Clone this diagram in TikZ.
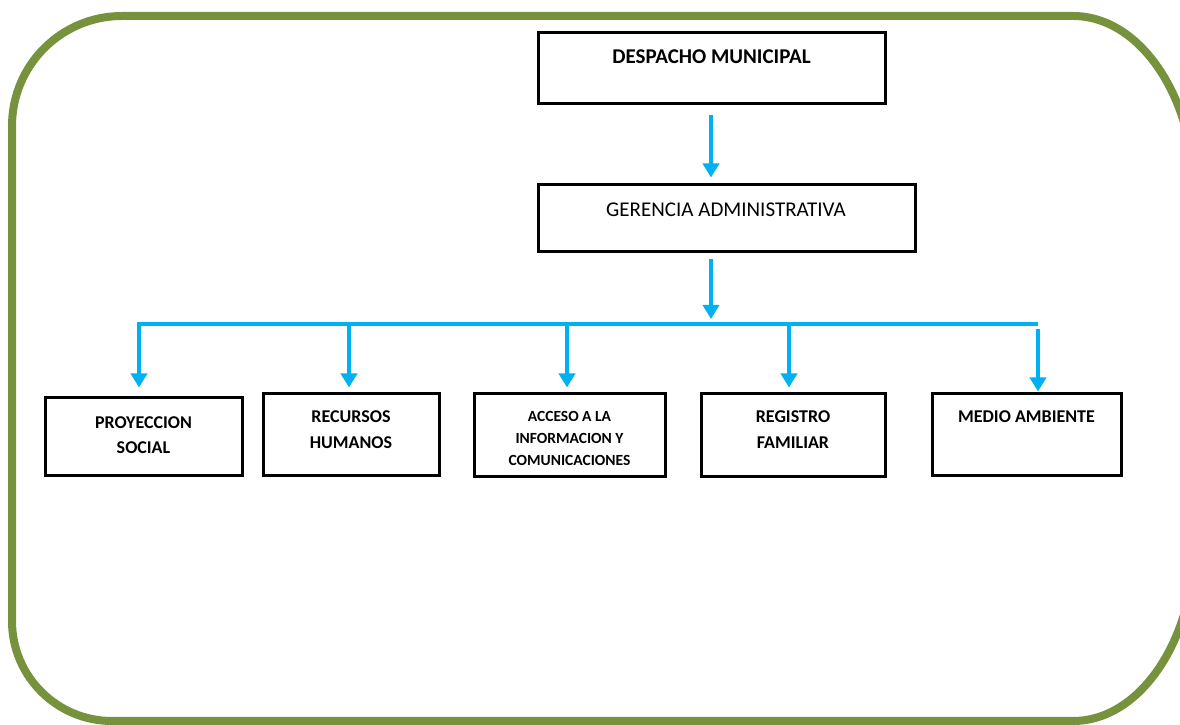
\documentclass[tikz,border=0pt]{standalone}
\usepackage{fontspec}
\setmainfont{Carlito}
\usetikzlibrary{arrows.meta}
\definecolor{frameolive}{HTML}{76923C}
\definecolor{linkblue}{HTML}{00B0F0}
\begin{document}
\begin{tikzpicture}[x=1pt,y=1pt,
  unitbox/.style={draw=black,line width=3pt,inner sep=0pt,rectangle},
  toptitle/.style={anchor=north,inner sep=0pt,align=center,font=\fontsize{21}{25}\selectfont},
  unitlabel/.style={anchor=north,inner sep=0pt,align=center,font=\bfseries\fontsize{18}{26}\selectfont},
  smalllabel/.style={anchor=north,inner sep=0pt,align=center,font=\bfseries\fontsize{15.5}{22}\selectfont},
  link/.style={draw=linkblue,line width=3.5pt},
  linkarrow/.style={link,-{Triangle[width=16pt,length=14pt]}},
]
\useasboundingbox (0,0) rectangle (1180,725);
\clip (0,0) rectangle (1180,725);
\fill[white] (0,0) rectangle (1180,725);

% olive frame with rounded corners, running past the right edge
\draw[frameolive,line width=8pt]
  (122,709) -- (1073,709)
  arc[start angle=90,end angle=0,x radius=122,y radius=182] -- (1195,186)
  arc[start angle=0,end angle=-90,x radius=122,y radius=182] -- (112,4)
  arc[start angle=270,end angle=180,radius=100] -- (12,599)
  arc[start angle=180,end angle=90,radius=110] -- cycle;

% boxes
\node (dm) [unitbox,minimum width=347pt,minimum height=71pt] at (711.5,656.5) {};
\node (ga) [unitbox,minimum width=377pt,minimum height=67pt] at (726.5,506.5) {};
\node (ps) [unitbox,minimum width=197pt,minimum height=78pt] at (143.5,288) {};
\node (rh) [unitbox,minimum width=176pt,minimum height=82pt] at (351,290) {};
\node (ai) [unitbox,minimum width=191pt,minimum height=83pt] at (569.5,289.5) {};
\node (rf) [unitbox,minimum width=184pt,minimum height=83pt] at (793,289.5) {};
\node (ma) [unitbox,minimum width=189pt,minimum height=82pt] at (1026.5,290) {};

% box texts
\node (dmt) [toptitle,font=\bfseries\fontsize{21}{25}\selectfont] at (711.5,675) {DESPACHO MUNICIPAL};
\node (gat) [toptitle] at (726,522) {GERENCIA ADMINISTRATIVA};
\node (pst) [unitlabel] at (143.5,309) {PROYECCION\\SOCIAL};
\node (rht) [unitlabel] at (351,314) {RECURSOS\\HUMANOS};
\node (ait) [smalllabel] at (569.5,314) {ACCESO A LA\\INFORMACION Y\\COMUNICACIONES};
\node (rft) [unitlabel] at (793,314) {REGISTRO\\FAMILIAR};
\node (mat) [unitlabel] at (1026.5,314) {MEDIO AMBIENTE};

% connectors
\coordinate (busL) at (139,401);
\coordinate (busR) at (1038,401);
\coordinate (trunk) at (711,401);

\draw[linkarrow] ([yshift=-10pt]dm.south -| trunk) -- ([yshift=6pt]ga.north -| trunk);
\draw[linkarrow] ([yshift=-6pt]ga.south -| trunk) -- ([yshift=5pt]trunk);
\draw[linkarrow] (busR) -- (busL) -- ([yshift=9pt]ps.north -| busL);
\draw[linkarrow] (349,401) -- ([yshift=5pt]rh.north -| 349,0);
\draw[linkarrow] (567,401) -- ([yshift=5pt]ai.north -| 567,0);
\draw[linkarrow] (789,401) -- ([yshift=5pt]rf.north -| 789,0);
\draw[linkarrow] ([yshift=-5pt]busR) -- ([yshift=1pt]ma.north -| busR);
\end{tikzpicture}
\end{document}
